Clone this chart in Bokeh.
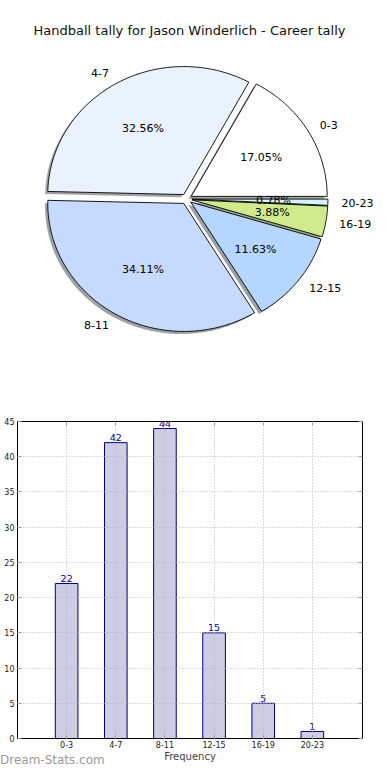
import numpy as np
from bokeh.plotting import figure
from bokeh.models import ColumnDataSource, Range1d, FixedTicker, LinearAxis, Label, Div
from bokeh.layouts import column
from bokeh.embed import file_html
from bokeh.resources import INLINE
from bokeh.core.properties import value

# ---------------- data ----------------
title_text = "Handball tally for Jason Winderlich - Career tally"
categories = ["0-3", "4-7", "8-11", "12-15", "16-19", "20-23"]
counts = [22, 42, 44, 15, 5, 1]
slice_colors = ["#FFFFFF", "#EBF2FF", "#C6D9FF", "#B5D7FF", "#CFEB8C", "#D2F5FF"]
y_ticks = [0, 5, 10, 15, 20, 25, 30, 35, 40, 45]
x_label = "Frequency"
watermark = "Dream-Stats.com"

FONT = "DejaVu Sans"
W = 374
PIE_H = 390
BAR_H = 374

# ---------------- pie ----------------
total = float(sum(counts))
fracs = np.array(counts) / total
explode = 0.04
bounds = np.concatenate([[0.0], np.cumsum(fracs)]) * 2 * np.pi

RX, RY = 136.0, 128.0
CX_PX, CY_PX = 186.0, 198.5
pie = figure(width=W, height=PIE_H,
             x_range=Range1d(-CX_PX / RX, (W - CX_PX) / RX),
             y_range=Range1d(-(PIE_H - CY_PX) / RY, CY_PX / RY),
             x_axis_type=None, y_axis_type=None,
             output_backend="svg", toolbar_location=None, min_border=0)
pie.frame_align = False
pie.grid.visible = False
pie.outline_line_color = None


def darken(hexcol, f=0.3):
    h = hexcol.lstrip("#")
    r, g, b = (int(h[i:i + 2], 16) for i in (0, 2, 4))
    return "#%02x%02x%02x" % (int(r * f), int(g * f), int(b * f))


wx, wy, shx, shy = [], [], [], []
pct_x, pct_y, pct_t = [], [], []
lab_l = dict(x=[], y=[], t=[])
lab_r = dict(x=[], y=[], t=[])
for i, (cat, cnt) in enumerate(zip(categories, counts)):
    a0, a1 = bounds[i], bounds[i + 1]
    mid = 0.5 * (a0 + a1)
    cx, cy = explode * np.cos(mid), explode * np.sin(mid)
    t = np.linspace(a0, a1, max(int(np.degrees(a1 - a0)) + 3, 4))
    xs = np.concatenate([[cx], cx + np.cos(t), [cx]])
    ys = np.concatenate([[cy], cy + np.sin(t), [cy]])
    wx.append(list(xs)); wy.append(list(ys))
    shx.append(list(xs - 0.02)); shy.append(list(ys - 0.02))
    pct_x.append(cx + 0.6 * np.cos(mid)); pct_y.append(cy + 0.6 * np.sin(mid))
    pct_t.append("%.2f%%" % (100.0 * cnt / total))
    lx, ly = cx + 1.1 * np.cos(mid), cy + 1.1 * np.sin(mid)
    d = lab_l if lx > 0 else lab_r
    d["x"].append(lx); d["y"].append(ly); d["t"].append(cat)

pie.patches(xs="xs", ys="ys", source=ColumnDataSource(dict(
    xs=shx, ys=shy, c=[darken(c) for c in slice_colors])),
    fill_color="c", fill_alpha=0.5, line_color=None)
pie.patches(xs="xs", ys="ys", source=ColumnDataSource(dict(
    xs=wx, ys=wy, c=slice_colors)),
    fill_color="c", line_color="black", line_width=0.9)

pie.text(x=pct_x, y=pct_y, text=pct_t, text_align="center", text_baseline="middle",
         text_font=value(FONT), text_font_size="11px", text_color="black")
pie.text(x=lab_l["x"], y=lab_l["y"], text=lab_l["t"], text_align="left", text_baseline="middle",
         text_font=value(FONT), text_font_size="11px", text_color="black")
pie.text(x=lab_r["x"], y=lab_r["y"], text=lab_r["t"], text_align="right", text_baseline="middle",
         text_font=value(FONT), text_font_size="11px", text_color="black")

pie.add_layout(Label(x=189, y=PIE_H - 30, x_units="screen", y_units="screen",
                     text=title_text, text_align="center", text_baseline="middle",
                     text_font=FONT, text_font_size="13px", text_color="#111111"))

# ---------------- bars ----------------
x_pos = list(range(1, len(categories) + 1))
BL, BR, BT, BB = 17, 12, 31, 24
bar = figure(width=W, height=BAR_H, x_range=Range1d(0, 7.02), y_range=Range1d(0, 45),
             output_backend="svg", toolbar_location=None,
             min_border_left=BL, min_border_right=BR, min_border_top=BT, min_border_bottom=BB)
bar.frame_align = False
src = ColumnDataSource(dict(x=x_pos, top=counts, label=[str(c) for c in counts]))
bar.vbar(x="x", top="top", width=0.46, source=src,
         fill_color="#CCCCE3", line_color="#000080", line_width=1)
bar.text(x="x", y="top", text="label", source=src, text_align="center",
         text_baseline="alphabetic", y_offset=-5,
         text_font=value(FONT), text_font_size="9.5px", text_color="#000099")

bar.xaxis.ticker = FixedTicker(ticks=x_pos)
bar.xaxis.major_label_overrides = {x: c for x, c in zip(x_pos, categories)}
bar.yaxis.ticker = FixedTicker(ticks=y_ticks)
bar.xaxis.axis_label = x_label
bar.xaxis.axis_label_text_font = FONT
bar.xaxis.axis_label_text_font_size = "10px"
bar.xaxis.axis_label_text_font_style = "normal"
bar.xaxis.axis_label_standoff = 0
for ax in list(bar.xaxis) + list(bar.yaxis):
    ax.major_tick_in = 4
    ax.major_tick_out = 0
    ax.minor_tick_in = 0
    ax.minor_tick_out = 0
    ax.major_tick_line_color = "#999999"
    ax.axis_line_color = "black"
    ax.major_label_text_font = FONT
    ax.major_label_text_font_size = "8px"
    ax.major_label_text_color = "#222222"
    ax.major_label_standoff = 3
bar.xaxis.major_label_standoff = 2

for loc, tk in (("right", y_ticks), ("above", x_pos)):
    a = LinearAxis(ticker=FixedTicker(ticks=tk), major_label_text_font_size="0px",
                   major_label_standoff=0, axis_line_color=None,
                   major_tick_in=4, major_tick_out=0, minor_tick_in=0, minor_tick_out=0,
                   major_tick_line_color="#999999")
    bar.add_layout(a, loc)

bar.xgrid.ticker = FixedTicker(ticks=x_pos)
bar.ygrid.ticker = FixedTicker(ticks=y_ticks)
for g in (bar.xgrid, bar.ygrid):
    g.grid_line_color = "#b8b8b8"
    g.grid_line_dash = "1 2"
    g.grid_line_width = 1
    g.level = "overlay"
bar.outline_line_color = "black"
bar.outline_line_alpha = 1
bar.outline_line_width = 1

mark = Div(text=('<span style="position:relative; top:-12px; left:0px; '
                 'font-family:\'DejaVu Sans\'; font-size:12px; line-height:12px; '
                 'color:#9a9a9a; white-space:nowrap;">%s</span>' % watermark),
           width=120, height=0, margin=(0, 0, 0, 0), styles={"overflow": "visible"})

layout = column(pie, bar, mark, spacing=0)
open("out.html", "w").write(file_html(layout, INLINE))
